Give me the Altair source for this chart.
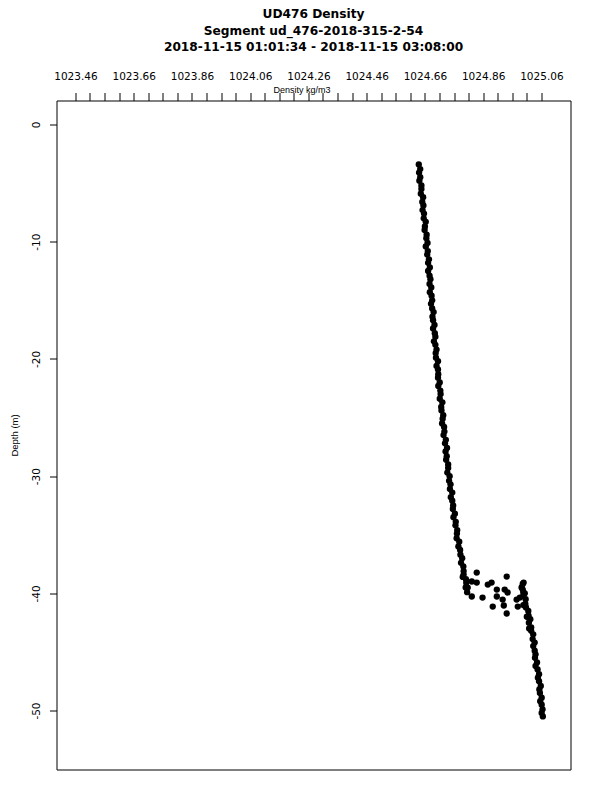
import altair as alt
import pandas as pd

TITLE_LINES = [
    "UD476 Density",
    "Segment ud_476-2018-315-2-54",
    "2018-11-15 01:01:34 - 2018-11-15 03:08:00",
]
X_TITLE = "Density kg/m3"
Y_TITLE = "Depth (m)"

X_TICKS = [1023.46, 1023.51, 1023.56, 1023.61, 1023.66, 1023.71, 1023.76, 1023.81,
           1023.86, 1023.91, 1023.96, 1024.01, 1024.06, 1024.11, 1024.16, 1024.21,
           1024.26, 1024.31, 1024.36, 1024.41, 1024.46, 1024.51, 1024.56, 1024.61,
           1024.66, 1024.71, 1024.76, 1024.81, 1024.86, 1024.91, 1024.96, 1025.01,
           1025.06]
X_LABELS = ["1023.46", "1023.66", "1023.86", "1024.06", "1024.26", "1024.46",
            "1024.66", "1024.86", "1025.06"]
Y_TICKS = [0, -10, -20, -30, -40, -50]
X_DOMAIN = [1023.395, 1025.160]
Y_DOMAIN = [-55.03, 2.05]

# upper (mixed layer / thermocline) band
UPPER_DEPTH = [-3.4, -3.8, -4.1, -4.5, -4.8, -5.2, -5.5, -5.9, -6.2, -6.6, -6.9, -7.3,
               -7.6, -8.0, -8.3, -8.7, -9.0, -9.4, -9.7, -10.1, -10.4, -10.8, -11.1,
               -11.5, -11.8, -12.2, -12.5, -12.9, -13.2, -13.6, -13.9, -14.3, -14.6,
               -15.0, -15.3, -15.7, -16.0, -16.4, -16.7, -17.1, -17.4, -17.8, -18.1,
               -18.5, -18.8, -19.2, -19.5, -19.9, -20.2, -20.6, -20.9, -21.3, -21.6,
               -22.0, -22.3, -22.7, -23.0, -23.4, -23.7, -24.1, -24.4, -24.8, -25.1,
               -25.5, -25.8, -26.2, -26.5, -26.9, -27.2, -27.6, -27.9, -28.3, -28.6,
               -29.0, -29.3, -29.7, -30.0, -30.4, -30.7, -31.1, -31.4, -31.8, -32.1,
               -32.5, -32.8, -33.2, -33.5, -33.9, -34.2, -34.6, -34.9, -35.3, -35.6,
               -36.0, -36.3, -36.7, -37.0, -37.4, -37.7, -38.1, -38.4, -38.8, -39.1,
               -38.6, -39.5, -39.9]
UPPER_DENSITY = [1024.639, 1024.644, 1024.640, 1024.644, 1024.641, 1024.648, 1024.648,
                 1024.646, 1024.654, 1024.651, 1024.655, 1024.652, 1024.657, 1024.656,
                 1024.663, 1024.660, 1024.659, 1024.666, 1024.665, 1024.669, 1024.663,
                 1024.670, 1024.668, 1024.674, 1024.671, 1024.677, 1024.671, 1024.676,
                 1024.679, 1024.676, 1024.682, 1024.677, 1024.683, 1024.685, 1024.681,
                 1024.685, 1024.690, 1024.686, 1024.688, 1024.693, 1024.688, 1024.694,
                 1024.696, 1024.691, 1024.696, 1024.700, 1024.697, 1024.698, 1024.705,
                 1024.700, 1024.705, 1024.706, 1024.705, 1024.711, 1024.706, 1024.713,
                 1024.714, 1024.711, 1024.720, 1024.716, 1024.717, 1024.723, 1024.721,
                 1024.719, 1024.726, 1024.727, 1024.724, 1024.732, 1024.729, 1024.736,
                 1024.731, 1024.735, 1024.733, 1024.740, 1024.740, 1024.737, 1024.745,
                 1024.743, 1024.748, 1024.746, 1024.754, 1024.749, 1024.754, 1024.757,
                 1024.756, 1024.763, 1024.758, 1024.766, 1024.765, 1024.771, 1024.770,
                 1024.769, 1024.778, 1024.775, 1024.781, 1024.782, 1024.788, 1024.784,
                 1024.792, 1024.793, 1024.793, 1024.801, 1024.802,
                 1024.790, 1024.800, 1024.805]

# scattered points in the transition near 38-42 m
SCATTER_DEPTH = [-38.23, -38.99, -39.08, -39.51, -40.27, -40.36, -39.25, -39.08, -38.57,
                 -39.68, -39.68, -39.93, -40.27, -40.53, -41.13, -41.04, -41.72, -40.53,
                 -41.13, -39.08, -39.68, -40.36]
SCATTER_DENSITY = [1024.838, 1024.821, 1024.838, 1024.807, 1024.821, 1024.858, 1024.876,
                   1024.889, 1024.941, 1024.907, 1024.934, 1024.944, 1024.907, 1024.927,
                   1024.893, 1024.931, 1024.941, 1024.975, 1024.979, 1024.999, 1024.996,
                   1024.986]

# lower band
LOWER_DEPTH = [-39.2, -39.5, -39.9, -40.2, -40.5, -40.9, -41.2, -41.5, -41.9, -42.2,
               -42.5, -42.9, -43.2, -43.5, -43.9, -44.2, -44.5, -44.9, -45.2, -45.5,
               -45.9, -46.2, -46.5, -46.9, -47.2, -47.5, -47.9, -48.2, -48.5, -48.9,
               -49.2, -49.5, -49.9, -50.2, -50.5,
               -40.0, -41.0, -42.0, -43.0]
LOWER_DENSITY = [1024.996, 1024.992, 1024.998, 1024.998, 1025.006, 1025.005, 1025.007,
                 1025.015, 1025.016, 1025.022, 1025.017, 1025.025, 1025.025, 1025.032,
                 1025.030, 1025.037, 1025.032, 1025.037, 1025.040, 1025.038, 1025.045,
                 1025.040, 1025.047, 1025.052, 1025.048, 1025.052, 1025.058, 1025.053,
                 1025.055, 1025.061, 1025.056, 1025.061, 1025.064, 1025.061, 1025.065,
                 1025.003, 1024.998, 1025.010, 1025.018]

df = pd.DataFrame({
    "density": UPPER_DENSITY + SCATTER_DENSITY + LOWER_DENSITY,
    "depth": UPPER_DEPTH + SCATTER_DEPTH + LOWER_DEPTH,
})

FONT = "Liberation Sans"
TICK_FONT = "DejaVu Sans"
TITLE_FONT = "DejaVu Sans"
label_list = "[" + ",".join("'" + s + "'" for s in X_LABELS) + "]"
x_label_expr = ("indexof(" + label_list + ", format(datum.value, '.2f')) >= 0 ? "
                "format(datum.value, '.2f') : ''")

chart = alt.Chart(df).mark_circle(color="black", size=40, opacity=1).encode(
    x=alt.X(
        "density:Q",
        scale=alt.Scale(domain=X_DOMAIN, nice=False, zero=False),
        axis=alt.Axis(
            orient="top", values=X_TICKS, labelExpr=x_label_expr, title=X_TITLE,
            grid=False, domain=False, tickSize=8, tickColor="black", tickWidth=1,
            labelPadding=11, labelFontSize=10.5, labelFont=TICK_FONT,
            labelColor="black", labelOverlap=False, labelFlush=False,
            titleX=245, titleY=-11, titleBaseline="middle", titleAlign="center",
            titleFontSize=9, titleFontWeight="normal", titleFont=FONT,
            titleColor="black",
        ),
    ),
    y=alt.Y(
        "depth:Q",
        scale=alt.Scale(domain=Y_DOMAIN, nice=False, zero=False),
        axis=alt.Axis(
            values=Y_TICKS, labelExpr="'' + datum.value", labelAngle=270,
            labelAlign="center", labelBaseline="bottom", grid=False, domain=False,
            tickSize=7, tickColor="black", tickWidth=1, labelPadding=8,
            labelFontSize=10.5, labelFont=TICK_FONT, labelColor="black",
            labelOverlap=False, labelFlush=False,
            title=Y_TITLE, titleAngle=270, titleX=-42, titleY=334.5,
            titleAlign="center", titleBaseline="middle", titleFontSize=9.5,
            titleFontWeight="normal", titleFont=FONT, titleColor="black",
        ),
    ),
).properties(
    width=514,
    height=669,
    background="white",
    padding={"left": 48.5, "top": 92.5, "right": 21, "bottom": 10},
    autosize=alt.AutoSizeParams(type="none"),
    title=alt.TitleParams(
        text=TITLE_LINES, font=TITLE_FONT, fontSize=12.2, fontWeight="bold",
        color="black", anchor="middle", frame="group", lineHeight=16.5, offset=18,
    ),
).configure_view(stroke="black", strokeWidth=1)

chart.save("out.html", embed_options={"renderer": "svg", "actions": False})
